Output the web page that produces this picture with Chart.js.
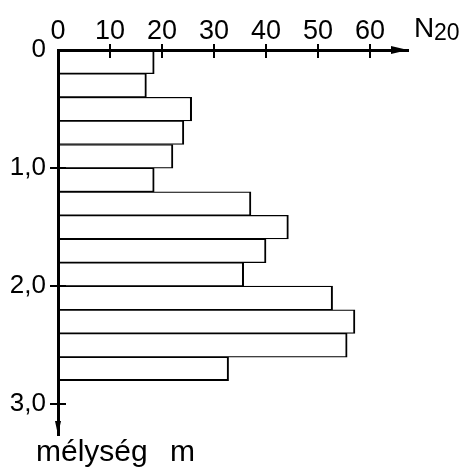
<!DOCTYPE html>
<html>
<head>
<meta charset="utf-8">
<script src="https://cdn.jsdelivr.net/npm/chart.js@4/dist/chart.umd.min.js"></script>
<style>
  html, body { margin: 0; padding: 0; background: #fff; }
  #wrap { width: 466px; height: 467px; }
</style>
</head>
<body>
<div id="wrap"><canvas id="myChart" width="466" height="467"></canvas></div>
<script>
// depth of each 0.2 m layer (middle of layer), m
var depths = [0.1, 0.3, 0.5, 0.7, 0.9, 1.1, 1.3, 1.5, 1.7, 1.9, 2.1, 2.3, 2.5, 2.7];
// N20 blow counts
var n20 = [18.5, 17.0, 25.7, 24.2, 22.1, 18.5, 37.1, 44.3, 40.0, 35.7, 52.8, 57.1, 55.6, 32.8];
var xTicks = [0, 10, 20, 30, 40, 50, 60];
var yTicks = [0, 1, 2, 3];

var font = "'Liberation Sans', Arial, sans-serif";

var points = depths.map(function(d, i){
    return {x: n20[i], y: d};
});

// crossing tick marks, arrow heads and axis titles
var axisExtras = {
    id: "axisExtras",
    afterDraw: function(chart){
        var c = chart.ctx;
        var xs = chart.scales.x, ys = chart.scales.y;
        var a = chart.chartArea;
        c.save();
        c.strokeStyle = "#000";
        c.fillStyle = "#000";
        c.lineWidth = 2;
        xTicks.forEach(function(v){
            if (v === 0) return;
            var px = Math.round(xs.getPixelForValue(v));
            c.beginPath();
            c.moveTo(px, a.top - 6);
            c.lineTo(px, a.top + 8);
            c.stroke();
        });
        yTicks.forEach(function(v){
            if (v === 0) return;
            var py = Math.round(ys.getPixelForValue(v));
            c.beginPath();
            c.moveTo(a.left - 8, py);
            c.lineTo(a.left + 8, py);
            c.stroke();
        });
        // arrow on x axis
        c.beginPath();
        c.moveTo(a.right, a.top);
        c.lineTo(a.right - 17, a.top - 4);
        c.lineTo(a.right - 17, a.top + 4);
        c.closePath();
        c.fill();
        // arrow on y axis
        c.beginPath();
        c.moveTo(a.left, a.bottom);
        c.lineTo(a.left - 3, a.bottom - 14);
        c.lineTo(a.left + 3, a.bottom - 14);
        c.closePath();
        c.fill();

        c.textBaseline = "alphabetic";
        c.textAlign = "left";
        c.font = "28px " + font;
        c.fillText("N", 414, 37);
        c.font = "23px " + font;
        c.fillText("20", 434, 40);
        c.font = "30px " + font;
        c.fillText("mélység", 36, 461);
        c.fillText("m", 170, 461);
        c.restore();
    }
};

var ctx = document.getElementById("myChart").getContext("2d");

var myChart = new Chart(ctx, {
    type: "bar",
    data: {
        datasets: [{
            data: points,
            backgroundColor: "#fff",
            borderColor: "#000",
            borderWidth: function(context){
                var last = context.dataIndex === depths.length - 1;
                return {top: 1.25, bottom: last ? 2 : 1.25, right: 2, left: 0};
            },
            borderSkipped: "start",
            barPercentage: 1,
            categoryPercentage: 1
        }]
    },
    options: {
        indexAxis: "y",
        responsive: false,
        animation: false,
        events: [],
        layout: { padding: { left: 0, top: 0, right: 58, bottom: 32 } },
        plugins: {
            legend: { display: false },
            tooltip: { enabled: false }
        },
        scales: {
            x: {
                type: "linear",
                position: "top",
                min: 0,
                max: 67.3,
                afterBuildTicks: function(scale){
                    scale.ticks = xTicks.map(function(v){ return {value: v}; });
                },
                afterFit: function(scale){ scale.height = 50; },
                grid: { display: false, drawTicks: false },
                border: { display: true, color: "#000", width: 3, z: 1 },
                ticks: {
                    color: "#000",
                    padding: 5,
                    maxRotation: 0,
                    font: { family: font, size: 27, lineHeight: 1 }
                }
            },
            y: {
                type: "linear",
                reverse: true,
                offset: false,
                min: 0,
                max: 3.26,
                afterBuildTicks: function(scale){
                    scale.ticks = yTicks.map(function(v){ return {value: v}; });
                },
                afterFit: function(scale){ scale.width = 58; },
                grid: { display: false, drawTicks: false },
                border: { display: true, color: "#000", width: 3, z: 1 },
                ticks: {
                    color: "#000",
                    padding: 12,
                    font: { family: font, size: 26 },
                    callback: function(v){
                        return v === 0 ? "0" : v.toFixed(1).replace(".", ",");
                    }
                }
            }
        }
    },
    plugins: [axisExtras]
});
</script>
</body>
</html>
